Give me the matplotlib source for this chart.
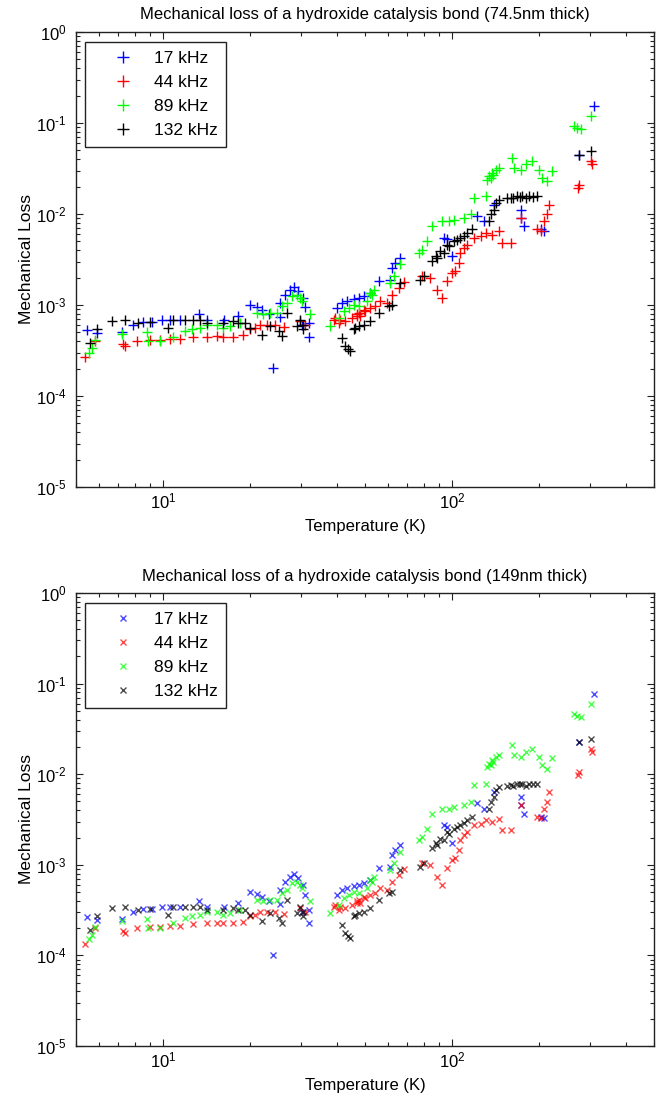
import matplotlib
matplotlib.use("Agg")
import math
import matplotlib.pyplot as plt
from matplotlib.ticker import LogLocator, NullFormatter, FuncFormatter

plt.rcParams['font.family'] = ['Liberation Sans', 'DejaVu Sans']
plt.rcParams['mathtext.fontset'] = 'custom'
plt.rcParams['mathtext.rm'] = 'Liberation Sans'
plt.rcParams['mathtext.it'] = 'Liberation Sans:italic'
plt.rcParams['mathtext.bf'] = 'Liberation Sans:bold'

# ---------------- data ----------------
labels = ['17 kHz', '44 kHz', '89 kHz', '132 kHz']
colors = ['#0000ff', '#ff0000', '#00ff00', '#000000']

titles = ['Mechanical loss of a hydroxide catalysis bond (74.5nm thick)',
          'Mechanical loss of a hydroxide catalysis bond (149nm thick)']

# temperatures (K)
T17 = [5.44, 5.92, 7.19, 7.89, 8.55, 9.14, 9.9, 10.6, 11.45, 13.3, 14.2, 16.2, 18.2, 20.0, 21.1,
       22.0, 23.2, 24.1, 25.4, 25.4, 26.5, 27.6, 28.5, 29.4, 30.3, 30.6, 31.1, 31.9, 31.9, 40.0,
       41.6, 43.3, 45.7, 47.5, 49.5, 52.2, 55.7, 61.2, 62.1, 63.7, 66.3, 93.7, 96.2, 100.0, 122,
       129, 140, 173, 173, 177, 203, 208, 275, 310]
T44 = [5.37, 5.81, 7.28, 7.38, 8.11, 9.02, 9.76, 10.57, 11.45, 12.73, 14.17, 15.35, 16.18, 17.53,
       18.98, 20.0, 20.84, 21.69, 22.88, 24.4, 26.2, 29.85, 31.1, 38.94, 39.47, 40.52, 41.08,
       42.74, 45.08, 46.93, 47.0, 47.5, 48.0, 49.5, 50.1, 52.2, 54.3, 56.5, 59.6, 62.1, 65.4, 68.1,
       78.85, 84.2, 88.9, 92.5, 96.2, 100.0, 102.8, 105.6, 107.0, 109.9, 112.9, 119.0, 125.6,
       130.7, 137.9, 145.3, 149.3, 159.5, 172.7, 197.4, 203, 208, 213.8, 216.6, 272, 275, 302, 306]
T89 = [5.55, 5.66, 5.8, 7.2, 8.78, 8.89, 9.76, 10.86, 11.92, 12.57, 13.44, 14.17, 15.35, 16.18,
       17.07, 18.49, 21.1, 22.27, 23.49, 24.78, 25.79, 26.85, 27.93, 29.07, 29.85, 30.26, 32.33,
       37.93, 40.52, 42.17, 43.88, 45.7, 47.5, 50.8, 52.2, 52.9, 53.6, 61.2, 62.85, 66.3, 76.7,
       78.85, 82.0, 85.4, 92.5, 97.5, 101.4, 109.9, 115.9, 119.0, 130.7, 132.4, 134.2, 136, 137.9,
       139, 141.5, 145.3, 161.7, 163.8, 172.7, 179.8, 189.7, 200, 205.5, 213.8, 222.5, 264.4, 270,
       278.9, 302]
T132 = [5.58, 5.89, 6.64, 7.38, 8.21, 9.02, 10.43, 10.86, 11.92, 12.73, 13.4, 14.17, 16.18, 17.53,
        18.2, 19.24, 20.0, 22.0, 23.49, 25.1, 25.79, 26.85, 29.07, 29.85, 30.6, 30.6, 41.6, 42.7,
        43.5, 44.5, 45.7, 46.3, 47.5, 49.5, 52.2, 55.7, 60.4, 62.0, 66.3, 77.8, 79.85, 85.4, 87.7,
        89.0, 91.0, 93.7, 96.2, 98.0, 101.4, 104.0, 107.0, 110.0, 112.9, 117.5, 134.2, 136, 140,
        141.5, 145.3, 155, 159.5, 163, 168.3, 172, 175.1, 180, 184.6, 190, 197.4, 275, 302]

# mechanical loss, 74.5 nm bond (top panel)
thin17 = [5.3e-4, 4.95e-4, 5.0e-4, 6.1e-4, 6.5e-4, 6.5e-4, 6.8e-4, 6.9e-4, 6.8e-4, 7.9e-4, 6.9e-4,
          6.9e-4, 7.5e-4, 9.9e-4, 9.6e-4, 8.9e-4, 7.9e-4, 2.04e-4, 7.3e-4, 1.06e-3, 1.3e-3, 1.48e-3,
          1.58e-3, 1.42e-3, 6.1e-4, 1.2e-3, 9.4e-4, 6.4e-4, 4.5e-4, 9.3e-4, 1.06e-3, 1.1e-3,
          1.17e-3, 1.2e-3, 1.25e-3, 1.36e-3, 1.83e-3, 1.9e-3, 2.56e-3, 2.9e-3, 3.3e-3, 5.5e-3,
          5.25e-3, 3.44e-3, 9.5e-3, 8.3e-3, 1.27e-2, 1.12e-2, 9.1e-3, 7.3e-3, 6.8e-3, 6.5e-3,
          4.5e-2, 0.153]
thin44 = [2.7e-4, 4.0e-4, 3.7e-4, 3.55e-4, 4.0e-4, 4.1e-4, 4.1e-4, 4.2e-4, 4.2e-4, 4.4e-4, 4.5e-4,
          4.55e-4, 4.5e-4, 4.5e-4, 4.7e-4, 5.4e-4, 5.6e-4, 6.1e-4, 6.1e-4, 6.0e-4, 5.75e-4, 6.6e-4,
          6.1e-4, 6.9e-4, 7.2e-4, 6.4e-4, 6.9e-4, 6.6e-4, 7.2e-4, 7.5e-4, 7.9e-4, 8.2e-4, 7.6e-4,
          8.9e-4, 8.55e-4, 9.3e-4, 9.7e-4, 1.1e-3, 1.06e-3, 1.3e-3, 1.55e-3, 1.8e-3, 2.07e-3,
          1.99e-3, 1.48e-3, 1.2e-3, 1.83e-3, 2.26e-3, 2.35e-3, 2.91e-3, 3.75e-3, 4.25e-3, 4.62e-3,
          5.48e-3, 5.7e-3, 6.2e-3, 5.95e-3, 6.47e-3, 4.83e-3, 4.83e-3, 9.1e-3, 6.8e-3, 6.5e-3,
          8.3e-3, 9.9e-3, 1.27e-2, 1.95e-2, 2.1e-2, 3.8e-2, 3.5e-2]
thin89 = [3.0e-4, 3.4e-4, 4.1e-4, 4.8e-4, 5.1e-4, 4.0e-4, 4.0e-4, 4.5e-4, 5.15e-4, 5.4e-4, 5.6e-4,
          6.1e-4, 6.1e-4, 5.6e-4, 5.85e-4, 6.4e-4, 8.2e-4, 7.9e-4, 8.2e-4, 8.2e-4, 9.7e-4, 1.06e-3,
          1.25e-3, 1.3e-3, 1.2e-3, 1.1e-3, 7.9e-4, 5.85e-4, 7.2e-4, 8.55e-4, 9.3e-4, 1.01e-3,
          9.7e-4, 1.1e-3, 1.36e-3, 1.3e-3, 1.48e-3, 1.75e-3, 2.07e-3, 2.79e-3, 3.75e-3, 4.07e-3,
          5.0e-3, 7.3e-3, 8.3e-3, 8.3e-3, 8.7e-3, 9.1e-3, 9.9e-3, 1.51e-2, 1.57e-2, 2.39e-2, 2.6e-2,
          2.5e-2, 2.84e-2, 2.7e-2, 3.08e-2, 3.22e-2, 4.15e-2, 3.22e-2, 3.08e-2, 3.5e-2, 3.8e-2,
          3.08e-2, 2.5e-2, 2.29e-2, 3.0e-2, 9.2e-2, 8.8e-2, 8.5e-2, 0.119]
thin132 = [3.84e-4, 5.38e-4, 6.64e-4, 6.8e-4, 6.37e-4, 6.5e-4, 5.6e-4, 6.9e-4, 6.9e-4, 6.8e-4,
           6.9e-4, 6.37e-4, 6.37e-4, 6.64e-4, 6.37e-4, 6.37e-4, 5.6e-4, 4.74e-4, 5.85e-4, 5.15e-4,
           4.54e-4, 8.2e-4, 5.85e-4, 6.9e-4, 6.1e-4, 5.4e-4, 4.36e-4, 3.5e-4, 3.3e-4, 3.1e-4,
           5.4e-4, 5.6e-4, 5.85e-4, 6.1e-4, 6.64e-4, 8.2e-4, 9.7e-4, 1.0e-3, 1.75e-3, 1.9e-3,
           2.07e-3, 3.03e-3, 3.44e-3, 3.3e-3, 3.9e-3, 3.75e-3, 4.62e-3, 4.4e-3, 5.02e-3, 5.2e-3,
           5.5e-3, 5.8e-3, 6.2e-3, 6.76e-3, 8.3e-3, 9.9e-3, 1.12e-2, 1.33e-2, 1.44e-2, 1.5e-2,
           1.51e-2, 1.5e-2, 1.57e-2, 1.55e-2, 1.57e-2, 1.5e-2, 1.57e-2, 1.55e-2, 1.57e-2, 4.5e-2,
           4.9e-2]

# mechanical loss, 149 nm bond (bottom panel)
thick17 = [2.65e-4, 2.48e-4, 2.5e-4, 3.05e-4, 3.25e-4, 3.25e-4, 3.4e-4, 3.45e-4, 3.4e-4, 3.95e-4,
           3.45e-4, 3.45e-4, 3.75e-4, 4.95e-4, 4.8e-4, 4.45e-4, 3.95e-4, 1.02e-4, 3.65e-4, 5.3e-4,
           6.5e-4, 7.4e-4, 7.9e-4, 7.1e-4, 3.05e-4, 6.0e-4, 4.7e-4, 3.2e-4, 2.25e-4, 4.65e-4,
           5.3e-4, 5.5e-4, 5.85e-4, 6.0e-4, 6.25e-4, 6.8e-4, 9.15e-4, 9.5e-4, 1.28e-3, 1.45e-3,
           1.65e-3, 2.75e-3, 2.63e-3, 1.72e-3, 4.75e-3, 4.15e-3, 6.35e-3, 5.6e-3, 4.55e-3, 3.65e-3,
           3.4e-3, 3.25e-3, 2.25e-2, 7.65e-2]
thick44 = [1.35e-4, 2.0e-4, 1.85e-4, 1.78e-4, 2.0e-4, 2.05e-4, 2.05e-4, 2.1e-4, 2.1e-4, 2.2e-4,
           2.25e-4, 2.28e-4, 2.25e-4, 2.25e-4, 2.35e-4, 2.7e-4, 2.8e-4, 3.05e-4, 3.05e-4, 3.0e-4,
           2.88e-4, 3.3e-4, 3.05e-4, 3.45e-4, 3.6e-4, 3.2e-4, 3.45e-4, 3.3e-4, 3.6e-4, 3.75e-4,
           3.95e-4, 4.1e-4, 3.8e-4, 4.45e-4, 4.28e-4, 4.65e-4, 4.85e-4, 5.5e-4, 5.3e-4, 6.5e-4,
           7.75e-4, 9.0e-4, 1.04e-3, 9.95e-4, 7.4e-4, 6.0e-4, 9.15e-4, 1.13e-3, 1.18e-3, 1.46e-3,
           1.88e-3, 2.13e-3, 2.31e-3, 2.74e-3, 2.85e-3, 3.1e-3, 2.98e-3, 3.24e-3, 2.42e-3, 2.42e-3,
           4.55e-3, 3.4e-3, 3.25e-3, 4.15e-3, 4.95e-3, 6.35e-3, 9.75e-3, 1.05e-2, 1.9e-2, 1.75e-2]
thick89 = [1.5e-4, 1.7e-4, 2.05e-4, 2.4e-4, 2.55e-4, 2.0e-4, 2.0e-4, 2.25e-4, 2.58e-4, 2.7e-4,
           2.8e-4, 3.05e-4, 3.05e-4, 2.8e-4, 2.93e-4, 3.2e-4, 4.1e-4, 3.95e-4, 4.1e-4, 4.1e-4,
           4.85e-4, 5.3e-4, 6.25e-4, 6.5e-4, 6.0e-4, 5.5e-4, 3.95e-4, 2.93e-4, 3.6e-4, 4.28e-4,
           4.65e-4, 5.05e-4, 4.85e-4, 5.5e-4, 6.8e-4, 6.5e-4, 7.4e-4, 8.75e-4, 1.04e-3, 1.4e-3,
           1.88e-3, 2.04e-3, 2.5e-3, 3.65e-3, 4.15e-3, 4.15e-3, 4.35e-3, 4.55e-3, 4.95e-3, 7.55e-3,
           7.85e-3, 1.2e-2, 1.3e-2, 1.25e-2, 1.42e-2, 1.35e-2, 1.54e-2, 1.61e-2, 2.08e-2, 1.61e-2,
           1.54e-2, 1.75e-2, 1.9e-2, 1.54e-2, 1.25e-2, 1.15e-2, 1.5e-2, 4.6e-2, 4.4e-2, 4.25e-2,
           5.95e-2]
thick132 = [1.92e-4, 2.69e-4, 3.32e-4, 3.4e-4, 3.19e-4, 3.25e-4, 2.8e-4, 3.45e-4, 3.45e-4, 3.4e-4,
            3.45e-4, 3.19e-4, 3.19e-4, 3.32e-4, 3.19e-4, 3.19e-4, 2.8e-4, 2.37e-4, 2.93e-4, 2.58e-4,
            2.27e-4, 4.1e-4, 2.93e-4, 3.45e-4, 3.05e-4, 2.7e-4, 2.18e-4, 1.75e-4, 1.65e-4, 1.55e-4,
            2.7e-4, 2.8e-4, 2.93e-4, 3.05e-4, 3.32e-4, 4.1e-4, 4.85e-4, 5.0e-4, 8.75e-4, 9.5e-4,
            1.04e-3, 1.52e-3, 1.72e-3, 1.65e-3, 1.95e-3, 1.88e-3, 2.31e-3, 2.2e-3, 2.51e-3, 2.6e-3,
            2.75e-3, 2.9e-3, 3.1e-3, 3.38e-3, 4.15e-3, 4.95e-3, 5.6e-3, 6.65e-3, 7.2e-3, 7.5e-3,
            7.55e-3, 7.5e-3, 7.85e-3, 7.75e-3, 7.85e-3, 7.5e-3, 7.85e-3, 7.75e-3, 7.85e-3, 2.25e-2,
            2.45e-2]

temps = [T17, T44, T89, T132]
top_losses = [thin17, thin44, thin89, thin132]
bottom_losses = [thick17, thick44, thick89, thick132]

# ---------------- figure ----------------
W, H = 664, 1104
fig = plt.figure(figsize=(W / 100, H / 100), dpi=100)
ax1 = fig.add_axes([76 / W, (H - 487) / H, 578 / W, 455 / H])
ax2 = fig.add_axes([76 / W, (H - 1046) / H, 578 / W, 453 / H])


def pow_label(v, pos):
    if v <= 0:
        return ''
    e = int(round(math.log10(v)))
    s = str(e).replace('-', '\u2010')
    return r'$10^{%s}$' % s


def style(ax, title):
    ax.set_xscale('log')
    ax.set_yscale('log')
    ax.set_xlim(5, 500)
    ax.set_ylim(1e-5, 1)
    ax.xaxis.set_major_locator(LogLocator(base=10, numticks=10))
    ax.yaxis.set_major_locator(LogLocator(base=10, numticks=10))
    ax.xaxis.set_minor_locator(LogLocator(base=10, subs=range(2, 10), numticks=20))
    ax.yaxis.set_minor_locator(LogLocator(base=10, subs=range(2, 10), numticks=20))
    ax.xaxis.set_minor_formatter(NullFormatter())
    ax.yaxis.set_minor_formatter(NullFormatter())
    ax.xaxis.set_major_formatter(FuncFormatter(pow_label))
    ax.yaxis.set_major_formatter(FuncFormatter(pow_label))
    ax.tick_params(which='both', direction='in', top=True, right=True, width=0.8,
                   color='#222222', labelsize=12)
    ax.tick_params(which='major', length=5)
    ax.tick_params(which='minor', length=3)
    ax.tick_params(axis='x', which='major', pad=3)
    ax.tick_params(axis='y', which='major', pad=7)
    for s in ax.spines.values():
        s.set_linewidth(1.0)
        s.set_color('#222222')
    ax.set_title(title, fontsize=12, pad=9)
    ax.set_xlabel('Temperature (K)', fontsize=12, labelpad=6)
    ax.set_ylabel('Mechanical Loss', fontsize=12.5, labelpad=1.5)


for T, L, c, lab in zip(temps, top_losses, colors, labels):
    ax1.plot(T, L, ls='none', marker='+', ms=7, mew=1.0, color=c, label=lab)
for T, L, c, lab in zip(temps, bottom_losses, colors, labels):
    ax2.plot(T, L, ls='none', marker='x', ms=4.3, mew=1.0, color=c, alpha=0.7, label=lab)

style(ax1, titles[0])
style(ax2, titles[1])

for ax, ms in ((ax1, 1.25), (ax2, 1.0)):
    leg = ax.legend(loc='upper left', bbox_to_anchor=(9 / 578, 1 - 10 / 455),
                    borderaxespad=0, frameon=True, fancybox=False, edgecolor='#222222',
                    framealpha=1, fontsize=12.5, handlelength=3.4, handletextpad=0.05,
                    borderpad=0.5, labelspacing=0.52, markerscale=ms)
    leg.get_frame().set_linewidth(1.0)

fig.savefig('out.png', dpi=100)
